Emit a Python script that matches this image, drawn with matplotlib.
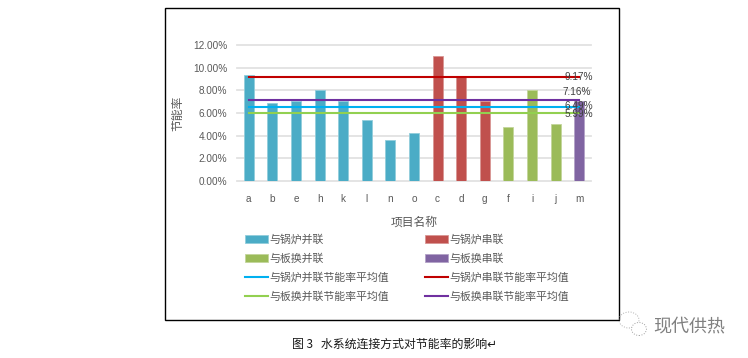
import matplotlib
matplotlib.use('Agg')
import matplotlib.pyplot as plt
from matplotlib.patches import Rectangle, Ellipse

plt.rcParams['font.family'] = ['Noto Sans CJK SC', 'DejaVu Sans']

names = ['a', 'b', 'e', 'h', 'k', 'l', 'n', 'o', 'c', 'd', 'g', 'f', 'i', 'j', 'm']
boiler_par = [9.35, 6.9, 7.1, 8.05, 7.1, 5.4, 3.65, 4.25]
boiler_ser = [11.05, 9.25, 7.1]
plate_par = [4.75, 8.05, 5.0]
plate_ser = [7.1]

avg_boiler_par = 6.49
avg_boiler_ser = 9.17
avg_plate_par = 5.99
avg_plate_ser = 7.16

W, H = 748, 358
text_col = '#595959'
latin = ['Liberation Sans', 'DejaVu Sans']

fig = plt.figure(figsize=(W / 100, H / 100), dpi=100)
# axes box in pixels of the reference
ax = fig.add_axes([237 / W, 1 - 181 / H, 354 / W, 136 / H])

x = list(range(len(names)))
x1 = x[:8]
x2 = x[8:11]
x3 = x[11:14]
x4 = x[14:]
width = 0.42
b1 = ax.bar(x1, boiler_par, width, color='#4bacc6', edgecolor='#92cddc', linewidth=0.6, zorder=2)
b2 = ax.bar(x2, boiler_ser, width, color='#c0504d', edgecolor='#d99694', linewidth=0.6, zorder=2)
b3 = ax.bar(x3, plate_par, width, color='#9bbb59', edgecolor='#c3d69b', linewidth=0.6, zorder=2)
b4 = ax.bar(x4, plate_ser, width, color='#8064a2', edgecolor='#b3a2c7', linewidth=0.6, zorder=2)

l1, = ax.plot(x, [avg_boiler_par] * len(x), color='#00b0f0', lw=1.5, zorder=3)
l2, = ax.plot(x, [avg_boiler_ser] * len(x), color='#c00000', lw=1.5, zorder=3)
l3, = ax.plot(x, [avg_plate_par] * len(x), color='#92d050', lw=1.5, zorder=3)
l4, = ax.plot(x, [avg_plate_ser] * len(x), color='#7030a0', lw=1.5, zorder=3)

# the 7.16 label sits above its line in the reference
offsets = {avg_boiler_ser: (0, 0), avg_plate_ser: (-1.5, 6), avg_boiler_par: (0, 0.7), avg_plate_par: (0, -0.7)}
for val in offsets:
    ax.annotate('%.2f%%' % val, (x[-1], val), xytext=offsets[val], textcoords='offset points',
                ha='center', va='center', fontsize=7.2, color='#404040', zorder=4, family=latin)

ax.set_xlim(-0.5, len(names) - 0.5)
ax.set_ylim(0, 12)
ax.set_yticks([0, 2, 4, 6, 8, 10, 12])
ax.set_yticklabels(['%.2f%%' % v for v in [0, 2, 4, 6, 8, 10, 12]], family=latin)
ax.set_xticks(x)
ax.set_xticklabels(names, family=latin)
ax.tick_params(axis='both', length=0, labelsize=7.2, labelcolor=text_col)
ax.tick_params(axis='x', pad=9)
ax.tick_params(axis='y', pad=7)
ax.grid(axis='y', color='#e2e2e2', lw=1.3, zorder=0)
for g in ax.get_ygridlines():
    g.set_clip_on(False)
ax.set_axisbelow(True)
for s in ax.spines.values():
    s.set_visible(False)

fig.text(414 / W, 1 - 222 / H, '项目名称', ha='center', va='center', fontsize=8.5, color=text_col)
fig.text(177.5 / W, 1 - 113 / H, '节能率', ha='center', va='center', rotation=90, fontsize=8.5, color=text_col)

# legend fills row by row in the reference, matplotlib fills columns
handles = [b1, b3, l1, l3, b2, b4, l2, l4]
labels = ['与锅炉并联', '与板换并联', '与锅炉并联节能率平均值', '与板换并联节能率平均值',
          '与锅炉串联', '与板换串联', '与锅炉串联节能率平均值', '与板换串联节能率平均值']
fig.legend(handles, labels, ncol=2, loc='upper left', bbox_to_anchor=(245 / W, 1 - 234 / H),
           frameon=False, fontsize=7.85, labelcolor=text_col, handlelength=2.1, handletextpad=0.15,
           columnspacing=3.28, labelspacing=0.8, borderpad=0, borderaxespad=0)

# outer frame of the chart image
fig.add_artist(Rectangle((165 / W, 1 - 320 / H), 453.5 / W, 312 / H, transform=fig.transFigure,
                         fill=False, edgecolor='black', lw=1))

fig.text(394.5 / W, 1 - 344 / H, '图 3   水系统连接方式对节能率的影响↵', ha='center', va='center',
         fontsize=8.6, color='#1a1a1a', family=['Noto Sans CJK SC', 'DejaVu Sans'])

# watermark
fig.text(689 / W, 1 - 327 / H, '现代供热', ha='center', va='center', fontsize=13, color='#808080')
fig.add_artist(Ellipse((629 / W, 1 - 320 / H), 20 / W, 16 / H, transform=fig.transFigure,
                       fill=False, edgecolor='#b0b0b0', lw=0.7, ls=':'))
fig.add_artist(Ellipse((639 / W, 1 - 329 / H), 15 / W, 13 / H, transform=fig.transFigure,
                       facecolor='white', edgecolor='#a0a0a0', lw=0.7, ls=':'))

fig.savefig('out.png', dpi=100)
